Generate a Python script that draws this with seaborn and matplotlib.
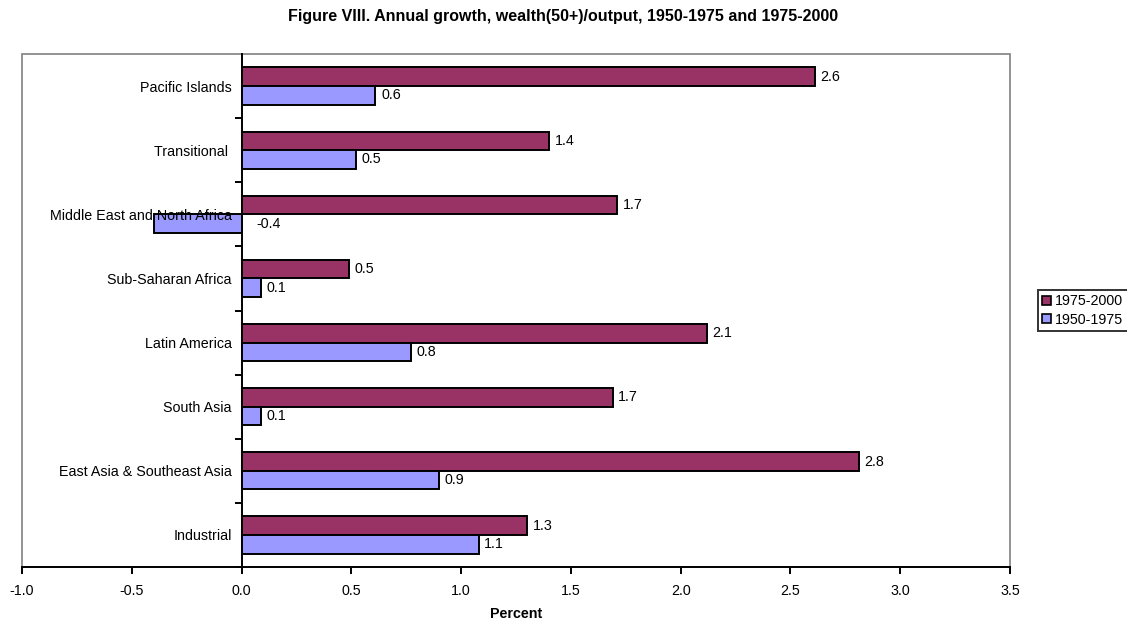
import numpy as np
import pandas as pd
import matplotlib
matplotlib.use("Agg")
import matplotlib.pyplot as plt
from matplotlib.patches import Rectangle
import seaborn as sns

regions = ["Pacific Islands", "Transitional ", "Middle East and North Africa",
           "Sub-Saharan Africa", "Latin America", "South Asia",
           "East Asia & Southeast Asia", "Industrial"]
growth_1975_2000 = [2.61, 1.40, 1.71, 0.49, 2.12, 1.69, 2.81, 1.30]
growth_1950_1975 = [0.61, 0.52, -0.40, 0.09, 0.77, 0.09, 0.90, 1.08]
periods = ["1975-2000", "1950-1975"]
colors = {"1975-2000": "#993366", "1950-1975": "#9999FF"}
x_ticks = [-1.0, -0.5, 0.0, 0.5, 1.0, 1.5, 2.0, 2.5, 3.0, 3.5]

df = pd.DataFrame({
    "region": regions * 2,
    "value": growth_1975_2000 + growth_1950_1975,
    "period": [periods[0]] * len(regions) + [periods[1]] * len(regions),
})

sns.set_theme(style="white")
plt.rcParams["font.family"] = ["Liberation Sans", "DejaVu Sans"]
plt.rcParams["text.color"] = "black"
plt.rcParams["axes.labelcolor"] = "black"
plt.rcParams["xtick.color"] = "black"
plt.rcParams["ytick.color"] = "black"

FS = 10.3

fig = plt.figure(figsize=(11.27, 6.21), dpi=100)
ax = fig.add_axes([22 / 1127, 1 - 567 / 621, (1010 - 22) / 1127, (567 - 54) / 621])

sns.barplot(data=df, y="region", x="value", hue="period", order=regions,
            hue_order=periods, palette=colors, orient="h", width=0.58,
            edgecolor="black", linewidth=1.4, saturation=1, ax=ax, legend=True)

# value labels at the outer end of each bar (negative bars labelled right of zero)
for container in ax.containers:
    for bar in container:
        w = bar.get_width()
        yc = bar.get_y() + bar.get_height() / 2
        xo = max(w, 0)
        off = 4 if w >= 0 else 11
        ax.annotate(f"{w:.1f}", (xo, yc), xytext=(off, 0), textcoords="offset points",
                    ha="left", va="center", fontsize=FS, color="black")

n = len(regions)
ax.set_xlim(-1.0, 3.5)
ax.set_ylim(n - 0.5, -0.5)
ax.set_xticks(x_ticks, labels=[f"{t:.1f}" for t in x_ticks], fontsize=FS)

# category axis at x = 0: tick marks between groups, labels at group centres
ax.spines["left"].set_position(("data", 0))
ax.set_yticks(np.arange(0.5, n + 0.5, 1.0), labels=[""] * n)
ax.set_yticks(np.arange(n), labels=regions, minor=True, fontsize=FS)
ax.tick_params(axis="y", which="major", direction="out", length=5, width=1.4,
               left=True)
ax.tick_params(axis="y", which="minor", length=0, pad=7, left=True)
ax.tick_params(axis="x", direction="out", length=5, width=1.4,
               bottom=True, pad=7)
ax.set_axisbelow(False)

for s in ["top", "right"]:
    ax.spines[s].set_visible(False)
for s in ["left", "bottom"]:
    ax.spines[s].set_color("black")
    ax.spines[s].set_linewidth(1.4)
    ax.spines[s].set_zorder(5)

# grey frame around the plot area
ax.add_patch(Rectangle((0, 0), 1, 1, transform=ax.transAxes, fill=False,
                       edgecolor="#808080", linewidth=1.2, clip_on=False, zorder=0))

ax.set_ylabel("")
ax.set_xlabel("Percent", fontsize=FS, fontweight="bold", labelpad=7)
fig.suptitle("Figure VIII. Annual growth, wealth(50+)/output, 1950-1975 and 1975-2000",
             fontsize=11.5, fontweight="bold", y=1 - 16 / 621, va="center")

leg = ax.legend(loc="upper left", bbox_to_anchor=(1038 / 1127, 1 - 290 / 621),
                bbox_transform=fig.transFigure, fontsize=FS, frameon=True,
                fancybox=False, handlelength=0.6, handleheight=0.6,
                handletextpad=0.3, borderpad=0.3, labelspacing=0.3,
                borderaxespad=0)
leg.get_frame().set_edgecolor("black")
leg.get_frame().set_linewidth(1.4)
for h in leg.legend_handles:
    h.set_edgecolor("black")
    h.set_linewidth(1.2)

fig.savefig("out.png", dpi=100)
